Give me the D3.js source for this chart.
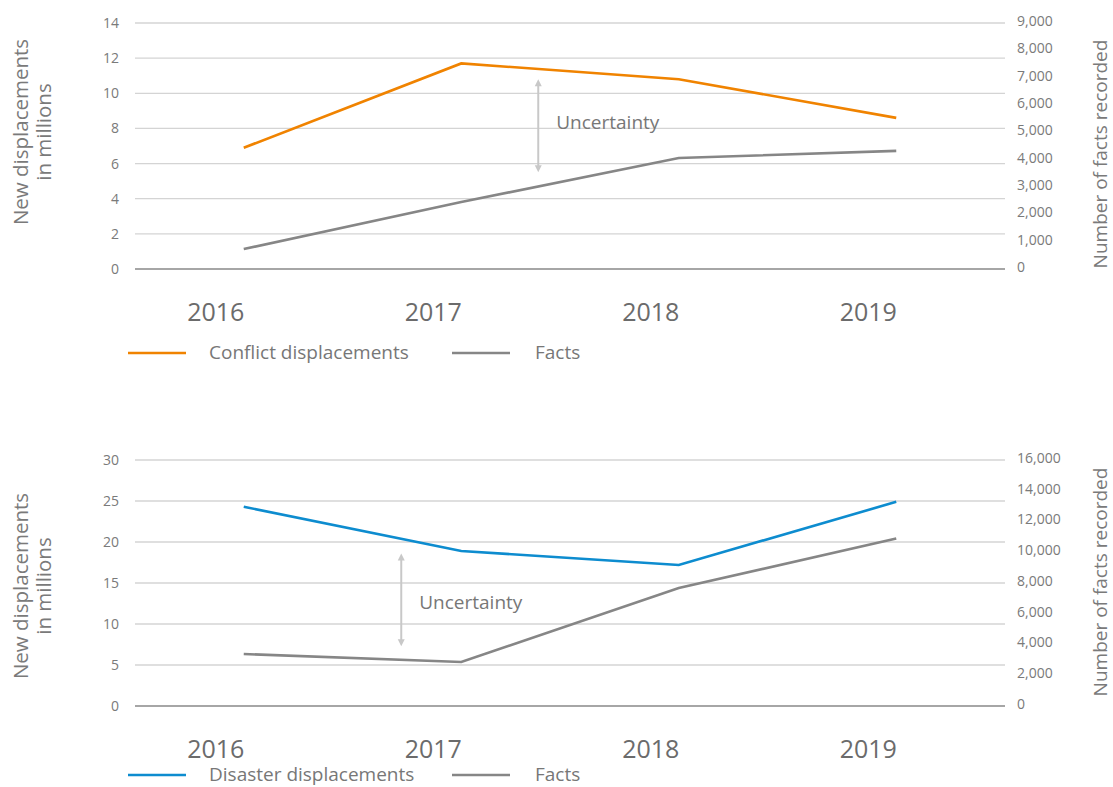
<!DOCTYPE html>
<html>
<head>
<meta charset="utf-8">
<script src="https://cdn.jsdelivr.net/npm/d3@7/dist/d3.min.js"></script>
<style>
  html, body { margin: 0; padding: 0; background: #fff; }
  svg { display: block; font-family: "Open Sans", "Noto Sans", sans-serif; }
</style>
</head>
<body>
<svg id="chart" width="1113" height="787"></svg>
<script>
// Years shown on both panels
const years = ["2016", "2017", "2018", "2019"];

// Conflict panel (new displacements in millions, facts recorded)
const conflictValues = [6.9, 11.7, 10.8, 8.6];
const conflictFacts = [730, 2450, 4060, 4320];
const conflictLeftTicks = [0, 2, 4, 6, 8, 10, 12, 14];
const conflictRightTicks = [0, 1000, 2000, 3000, 4000, 5000, 6000, 7000, 8000, 9000];

// Disaster panel
const disasterValues = [24.3, 18.9, 17.2, 24.9];
const disasterFacts = [3380, 2860, 7670, 10900];
const disasterLeftTicks = [0, 5, 10, 15, 20, 25, 30];
const disasterRightTicks = [0, 2000, 4000, 6000, 8000, 10000, 12000, 14000, 16000];

const svg = d3.select("#chart");
const fmt = d3.format(",");

function drawPanel(p) {
  const g = svg.append("g");
  const x = d3.scalePoint().domain(years).range([p.left, p.right]).padding(0.5);
  const yL = d3.scaleLinear().domain([0, d3.max(p.leftTicks)]).range([p.bottom, p.top]);
  const yR = d3.scaleLinear().domain([0, d3.max(p.rightTicks)]).range([p.bottom, p.top]);

  // horizontal gridlines
  g.append("g").selectAll("line").data(p.leftTicks).join("line")
    .attr("x1", p.left).attr("x2", p.right)
    .attr("y1", d => yL(d)).attr("y2", d => yL(d))
    .attr("stroke", d => d === 0 ? "#a6a6a6" : "#d4d4d4")
    .attr("stroke-width", d => d === 0 ? 2 : 1.3);

  // left axis labels
  const leftAxis = d3.axisLeft(yL).tickValues(p.leftTicks).tickSize(0).tickPadding(0);
  const la = g.append("g").attr("transform", `translate(${p.left - 16},0)`).call(leftAxis);
  la.select(".domain").remove();
  la.selectAll("text").attr("fill", "#7a7a7a").style("font-size", "14px")
    .style("font-family", "'Open Sans', sans-serif");

  // right axis labels
  const rightAxis = d3.axisRight(yR).tickValues(p.rightTicks).tickFormat(fmt).tickSize(0).tickPadding(0);
  const ra = g.append("g").attr("transform", `translate(${p.right + 12},${-2})`).call(rightAxis);
  ra.select(".domain").remove();
  ra.selectAll("text").attr("fill", "#7a7a7a").style("font-size", "14px")
    .style("font-family", "'Open Sans', sans-serif");

  // year labels
  g.append("g").selectAll("text").data(years).join("text")
    .attr("x", d => x(d) - 28).attr("y", p.bottom + 52)
    .attr("text-anchor", "middle")
    .attr("fill", "#6b6b6b").style("font-size", "25px")
    .text(d => d);

  // axis titles
  const lt = g.append("text")
    .attr("transform", `translate(28,${p.leftTitleY}) rotate(-90)`)
    .attr("text-anchor", "middle").attr("fill", "#7a7a7a").style("font-size", "20.5px");
  lt.append("tspan").attr("x", 0).attr("dy", 0).text("New displacements");
  lt.append("tspan").attr("x", 0).attr("dy", "1.1em").text("in millions");

  g.append("text")
    .attr("transform", `translate(1107,${p.rightTitleY}) rotate(-90)`)
    .attr("text-anchor", "middle").attr("fill", "#7a7a7a").style("font-size", "19px")
    .text("Number of facts recorded");

  // uncertainty arrow
  const ax = x(years[1]) + p.arrowOffset;
  const y1 = yL(p.arrowFrom), y2 = yL(p.arrowTo);
  g.append("line").attr("x1", ax).attr("x2", ax).attr("y1", y1 + 4).attr("y2", y2 - 4)
    .attr("stroke", "#c8c8c8").attr("stroke-width", 2);
  [[y1, 1], [y2, -1]].forEach(([yy, dir]) => {
    g.append("path")
      .attr("d", `M${ax - 3.5},${yy + dir * 7} L${ax},${yy} L${ax + 3.5},${yy + dir * 7} Z`)
      .attr("fill", "#c8c8c8");
  });
  g.append("text").attr("x", ax + 18).attr("y", (y1 + y2) / 2 + p.textDy)
    .attr("fill", "#777").style("font-size", "19px").text("Uncertainty");

  // series lines
  const lineL = d3.line().x((d, i) => x(years[i])).y(d => yL(d));
  const lineR = d3.line().x((d, i) => x(years[i])).y(d => yR(d));
  g.append("path").datum(p.facts).attr("d", lineR)
    .attr("fill", "none").attr("stroke", "#868686").attr("stroke-width", 2.6);
  g.append("path").datum(p.values).attr("d", lineL)
    .attr("fill", "none").attr("stroke", p.color).attr("stroke-width", 2.6);

  // legend
  const ly = p.legendY;
  g.append("line").attr("x1", 128).attr("x2", 186).attr("y1", ly).attr("y2", ly)
    .attr("stroke", p.color).attr("stroke-width", 2.6);
  g.append("text").attr("x", 209).attr("y", ly + 6).attr("fill", "#777")
    .style("font-size", "19px").text(p.label);
  g.append("line").attr("x1", 452).attr("x2", 510).attr("y1", ly).attr("y2", ly)
    .attr("stroke", "#868686").attr("stroke-width", 2.6);
  g.append("text").attr("x", 535).attr("y", ly + 6).attr("fill", "#777")
    .style("font-size", "19px").text("Facts");
}

drawPanel({
  top: 23, bottom: 269, left: 135, right: 1005,
  leftTicks: conflictLeftTicks, rightTicks: conflictRightTicks,
  values: conflictValues, facts: conflictFacts,
  color: "#f08300", label: "Conflict displacements",
  arrowOffset: 77, arrowFrom: 10.8, arrowTo: 5.5, textDy: 3,
  leftTitleY: 132, rightTitleY: 154,
  legendY: 353
});

drawPanel({
  top: 460, bottom: 706, left: 135, right: 1005,
  leftTicks: disasterLeftTicks, rightTicks: disasterRightTicks,
  values: disasterValues, facts: disasterFacts,
  color: "#0d8ccf", label: "Disaster displacements",
  arrowOffset: -60, arrowFrom: 18.6, arrowTo: 7.3, textDy: 9,
  leftTitleY: 586, rightTitleY: 582,
  legendY: 775
});
</script>
</body>
</html>
